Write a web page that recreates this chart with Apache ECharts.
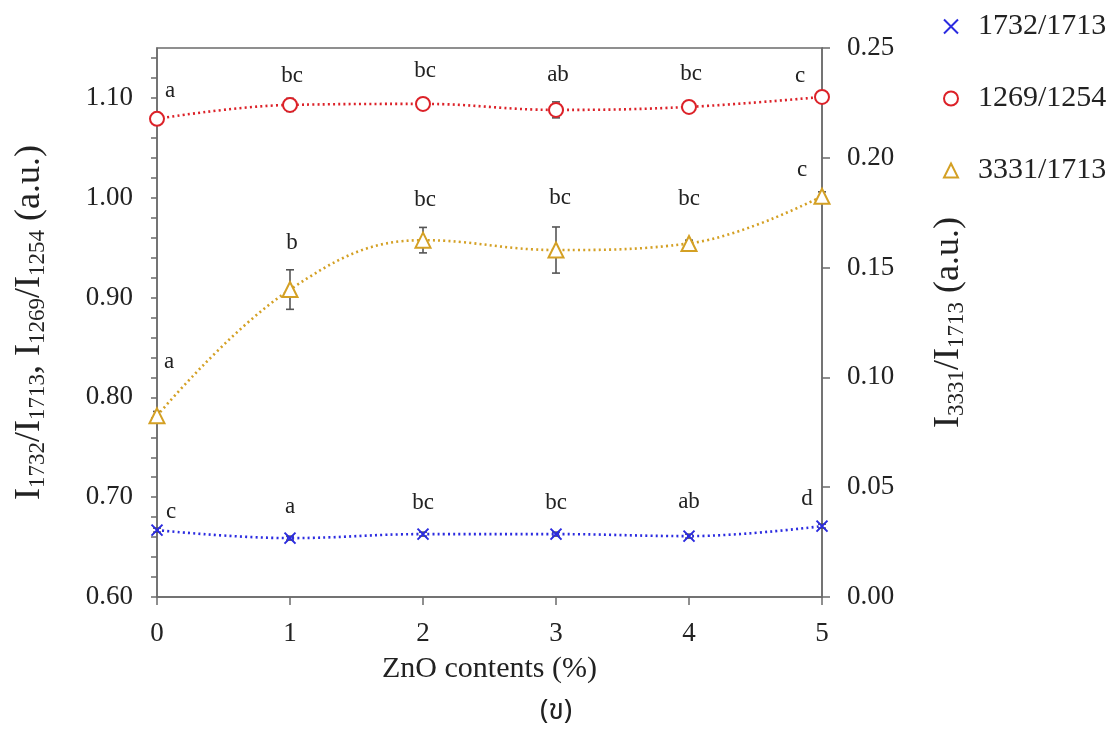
<!DOCTYPE html>
<html>
<head>
<meta charset="utf-8">
<script src="https://cdn.jsdelivr.net/npm/echarts@6/dist/echarts.min.js"></script>
<style>
  html, body { margin: 0; padding: 0; background: #fff; }
  #chart { width: 1114px; height: 733px; }
</style>
</head>
<body>
<div id="chart"></div>
<script>
// ZnO content (%) on the x axis
const znoContents = [0, 1, 2, 3, 4, 5];

// Intensity ratios (left axis)
const ratio1732 = [0.667, 0.659, 0.663, 0.663, 0.661, 0.671];
const err1732   = [0.002, 0.002, 0.002, 0.002, 0.002, 0.002];
const ratio1269 = [1.079, 1.093, 1.094, 1.088, 1.091, 1.101];
const err1269   = [0.002, 0.0065, 0.003, 0.008, 0.003, 0.002];

// Intensity ratio (right axis)
const ratio3331 = [0.0825, 0.140, 0.1625, 0.158, 0.161, 0.1825];
const err3331   = [0.002, 0.009, 0.0058, 0.0105, 0.0015, 0.002];

// Significance letters
const letters1732 = ['c', 'a', 'bc', 'bc', 'ab', 'd'];
const letters1269 = ['a', 'bc', 'bc', 'ab', 'bc', 'c'];
const letters3331 = ['a', 'b', 'bc', 'bc', 'bc', 'c'];

// Left axis tick labels
const leftTickLabels = [0.60, 0.70, 0.80, 0.90, 1.00, 1.10];

// Letter placement relative to each marker [dx, dy]
const offs1732 = [[14, -18], [0, -31], [0, -31], [0, -31], [0, -34], [-15, -27]];
const offs1269 = [[13, -28], [2, -29], [2, -33], [2, -35], [2, -33], [-22, -21]];
const offs3331 = [[12, -54], [2, -47], [2, -40], [4, -52], [0, -44], [-20, -26]];

const SERIF = '"Liberation Serif", "Times New Roman", serif';
const AXIS_GRAY = '#6b6b6b';
const TEXT = '#222';

const BLUE = '#2b2be0';
const RED = '#dc2128';
const GOLD = '#d4a024';

const X_PATH = 'path://M0,0L10,10M10,0L0,10';

// small ticks every 0.02 on the left axis, stopping below the frame top
const leftMinorTicks = [];
for (let k = 0; k <= 27; k++) leftMinorTicks.push(+(0.6 + k * 0.02).toFixed(2));

function pts(vals, letters, offs) {
  return vals.map((v, i) => ({
    value: [znoContents[i], v],
    label: { formatter: letters[i], offset: offs[i] }
  }));
}

function errData(vals, errs) {
  return vals.map((v, i) => [znoContents[i], v, errs[i]]);
}

function errorBars(params, api) {
  const x = api.value(0), y = api.value(1), e = api.value(2);
  const top = api.coord([x, y + e]);
  const bot = api.coord([x, y - e]);
  const hw = 4;
  const st = { stroke: '#555', lineWidth: 1.6 };
  return {
    type: 'group',
    children: [
      { type: 'line', shape: { x1: top[0], y1: top[1], x2: bot[0], y2: bot[1] }, style: st },
      { type: 'line', shape: { x1: top[0] - hw, y1: top[1], x2: top[0] + hw, y2: top[1] }, style: st },
      { type: 'line', shape: { x1: bot[0] - hw, y1: bot[1], x2: bot[0] + hw, y2: bot[1] }, style: st }
    ]
  };
}

const letterLabel = {
  show: true,
  position: 'inside',
  fontFamily: SERIF,
  fontSize: 23,
  color: TEXT
};

const dotted = (c) => ({ color: c, width: 2.6, type: [2, 3.2] });

const nameStyle = {
  fontFamily: SERIF, fontSize: 36, color: TEXT, lineHeight: 38,
  rich: { s: { fontFamily: SERIF, fontSize: 23, color: TEXT, verticalAlign: 'bottom', lineHeight: 38, padding: [11, 0, 0, 0] } }
};

const chart = echarts.init(document.getElementById('chart'), null, { renderer: 'canvas' });

chart.setOption({
  backgroundColor: '#fff',
  animation: false,
  grid: {
    left: 157, right: 292, top: 48, bottom: 136,
    show: true, borderColor: AXIS_GRAY, borderWidth: 1.5, backgroundColor: 'transparent'
  },
  legend: {
    orient: 'vertical',
    left: 938,
    top: 6,
    itemWidth: 14,
    itemHeight: 14,
    itemGap: 41,
    textStyle: { fontFamily: SERIF, fontSize: 30, color: TEXT, lineHeight: 31, padding: [0, 0, 0, 15] },
    data: [
      { name: '1732/1713', icon: X_PATH },
      { name: '1269/1254', icon: 'emptyCircle' },
      { name: '3331/1713', icon: 'emptyTriangle' }
    ]
  },
  xAxis: {
    type: 'value',
    min: 0, max: 5, interval: 1,
    name: 'ZnO contents (%)',
    nameLocation: 'middle',
    nameGap: 57,
    nameTextStyle: { fontFamily: SERIF, fontSize: 30, color: TEXT },
    axisLine: { lineStyle: { color: AXIS_GRAY, width: 1.5 } },
    axisTick: { length: 8, lineStyle: { color: AXIS_GRAY, width: 1.5 } },
    axisLabel: { fontFamily: SERIF, fontSize: 27, color: TEXT, margin: 23 },
    splitLine: { show: false }
  },
  yAxis: [
    {
      type: 'value',
      position: 'left',
      min: 0.6, max: 1.15, interval: 0.02,
      name: 'I{s|1732}/I{s|1713}, I{s|1269}/I{s|1254} (a.u.)',
      nameLocation: 'middle',
      nameRotate: 90,
      nameGap: 108,
      nameTextStyle: nameStyle,
      axisLine: { show: true, lineStyle: { color: AXIS_GRAY, width: 1.5 } },
      axisTick: { length: 6, customValues: leftMinorTicks, lineStyle: { color: AXIS_GRAY, width: 1.5 } },
      axisLabel: {
        fontFamily: SERIF, fontSize: 27, color: TEXT, margin: 24,
        customValues: leftTickLabels,
        formatter: (v) => Math.abs(v * 10 - Math.round(v * 10)) < 1e-6 ? v.toFixed(2) : ''
      },
      splitLine: { show: false }
    },
    {
      type: 'value',
      position: 'right',
      min: 0, max: 0.25, interval: 0.05,
      name: 'I{s|3331}/I{s|1713} (a.u.)',
      nameLocation: 'middle',
      nameRotate: 90,
      nameGap: 108,
      nameTextStyle: nameStyle,
      axisLine: { show: true, lineStyle: { color: AXIS_GRAY, width: 1.5 } },
      axisTick: { length: 8, lineStyle: { color: AXIS_GRAY, width: 1.5 } },
      axisLabel: {
        fontFamily: SERIF, fontSize: 27, color: TEXT, margin: 25,
        formatter: (v) => v.toFixed(2)
      },
      splitLine: { show: false }
    }
  ],
  series: [
    {
      name: 'err1732', type: 'custom', yAxisIndex: 0, z: 1,
      renderItem: errorBars, data: errData(ratio1732, err1732)
    },
    {
      name: 'err1269', type: 'custom', yAxisIndex: 0, z: 1,
      renderItem: errorBars, data: errData(ratio1269, err1269)
    },
    {
      name: 'err3331', type: 'custom', yAxisIndex: 1, z: 1,
      renderItem: errorBars, data: errData(ratio3331, err3331)
    },
    {
      name: '1732/1713', type: 'line', yAxisIndex: 0, z: 3,
      smooth: 0.4,
      symbol: X_PATH, symbolSize: 11,
      itemStyle: { color: BLUE, borderColor: BLUE, borderWidth: 2 },
      lineStyle: dotted(BLUE),
      label: letterLabel,
      data: pts(ratio1732, letters1732, offs1732)
    },
    {
      name: '1269/1254', type: 'line', yAxisIndex: 0, z: 3,
      smooth: 0.4,
      symbol: 'emptyCircle', symbolSize: 14,
      itemStyle: { color: RED, borderColor: RED, borderWidth: 2 },
      lineStyle: dotted(RED),
      label: letterLabel,
      data: pts(ratio1269, letters1269, offs1269)
    },
    {
      name: '3331/1713', type: 'line', yAxisIndex: 1, z: 3,
      smooth: 0.4,
      symbol: 'emptyTriangle', symbolSize: 15,
      itemStyle: { color: GOLD, borderColor: GOLD, borderWidth: 2 },
      lineStyle: dotted(GOLD),
      label: letterLabel,
      data: pts(ratio3331, letters3331, offs3331)
    }
  ],
  graphic: [
    {
      type: 'text',
      left: 540,
      top: 699,
      style: { text: '(ข)', fontFamily: '"Noto Sans Thai", "Liberation Serif", serif', fontSize: 28, fill: TEXT }
    }
  ]
});
</script>
</body>
</html>
